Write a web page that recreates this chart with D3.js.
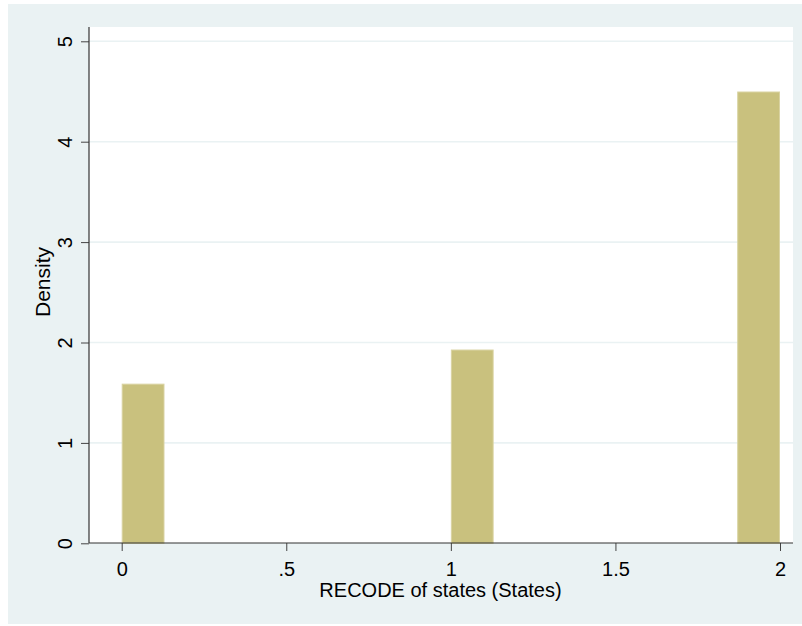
<!DOCTYPE html>
<html>
<head>
<meta charset="utf-8">
<script src="https://cdn.jsdelivr.net/npm/d3@7"></script>
<style>
  html, body { margin: 0; padding: 0; background: #ffffff; }
  svg { display: block; }
  text { font-family: "Liberation Sans", Arial, Helvetica, sans-serif; fill: #000; }
</style>
</head>
<body>
<svg id="chart" width="802" height="626"></svg>
<script>
// Histogram bins of RECODE of states: left edge, right edge, density
const binStart = [0, 1, 1.87];
const binEnd = [0.13, 1.13, 2.0];
const density = [1.59, 1.93, 4.5];

const xTickValues = [0, 0.5, 1, 1.5, 2];
const xTickLabels = ["0", ".5", "1", "1.5", "2"];
const yTickValues = [0, 1, 2, 3, 4, 5];
const yTickLabels = ["0", "1", "2", "3", "4", "5"];

const xTitle = "RECODE of states (States)";
const yTitle = "Density";

const svg = d3.select("#chart");

// outer graph region
svg.append("rect")
  .attr("x", 8).attr("y", 4)
  .attr("width", 794).attr("height", 620)
  .attr("fill", "#eaf2f3");

const plot = { left: 89, right: 793, top: 27, bottom: 543 };

const x = d3.scaleLinear().domain([0, 2]).range([121.7, 780]);
const y = d3.scaleLinear().domain([0, 5]).range([543.3, 41.3]);

// plot region
svg.append("rect")
  .attr("x", plot.left).attr("y", plot.top)
  .attr("width", plot.right - plot.left).attr("height", plot.bottom - plot.top)
  .attr("fill", "#ffffff");

// horizontal grid lines
svg.append("g")
  .selectAll("line")
  .data(yTickValues.filter(v => v > 0))
  .join("line")
  .attr("x1", plot.left).attr("x2", plot.right)
  .attr("y1", d => y(d)).attr("y2", d => y(d))
  .attr("stroke", "#eaf2f3")
  .attr("stroke-width", 1.6);

// bars
const bins = binStart.map((s, i) => ({ x0: s, x1: binEnd[i], d: density[i] }));
svg.append("g")
  .selectAll("rect")
  .data(bins)
  .join("rect")
  .attr("x", b => x(b.x0) + 0.5)
  .attr("width", b => x(b.x1) - x(b.x0) - 1)
  .attr("y", b => y(b.d) + 0.5)
  .attr("height", b => y(0) - y(b.d) - 0.5)
  .attr("fill", "#c9c17e")
  .attr("stroke", "#d9d3a2")
  .attr("stroke-width", 1);

// y axis
const yAxis = d3.axisLeft(y)
  .tickValues(yTickValues)
  .tickFormat((d, i) => yTickLabels[i])
  .tickSize(8)
  .tickPadding(0);
const gy = svg.append("g")
  .attr("transform", `translate(${plot.left},0)`)
  .call(yAxis);
gy.select(".domain").remove();
gy.selectAll(".tick line").attr("stroke", "#444").attr("stroke-width", 1);
gy.selectAll(".tick text")
  .attr("font-size", 20)
  .attr("x", 0).attr("y", 0)
  .attr("dy", 0)
  .attr("text-anchor", "middle")
  .attr("transform", "translate(-17,0) rotate(-90)");

// x axis
const xAxis = d3.axisBottom(x)
  .tickValues(xTickValues)
  .tickFormat((d, i) => xTickLabels[i])
  .tickSize(8)
  .tickPadding(0);
const gx = svg.append("g")
  .attr("transform", `translate(0,${plot.bottom})`)
  .call(xAxis);
gx.select(".domain").remove();
gx.selectAll(".tick line").attr("stroke", "#444").attr("stroke-width", 1);
gx.selectAll(".tick text")
  .attr("font-size", 20)
  .attr("y", 33)
  .attr("dy", 0);

// axis lines
svg.append("line")
  .attr("x1", plot.left).attr("x2", plot.left)
  .attr("y1", plot.top).attr("y2", plot.bottom)
  .attr("stroke", "#333").attr("stroke-width", 1.2);
svg.append("line")
  .attr("x1", plot.left).attr("x2", plot.right)
  .attr("y1", plot.bottom).attr("y2", plot.bottom)
  .attr("stroke", "#333").attr("stroke-width", 1.2);

// axis titles
svg.append("text")
  .attr("x", (plot.left + plot.right) / 2 - 0.5)
  .attr("y", 597)
  .attr("text-anchor", "middle")
  .attr("font-size", 20)
  .text(xTitle);

svg.append("text")
  .attr("transform", "translate(50,282) rotate(-90)")
  .attr("text-anchor", "middle")
  .attr("font-size", 21)
  .text(yTitle);
</script>
</body>
</html>
